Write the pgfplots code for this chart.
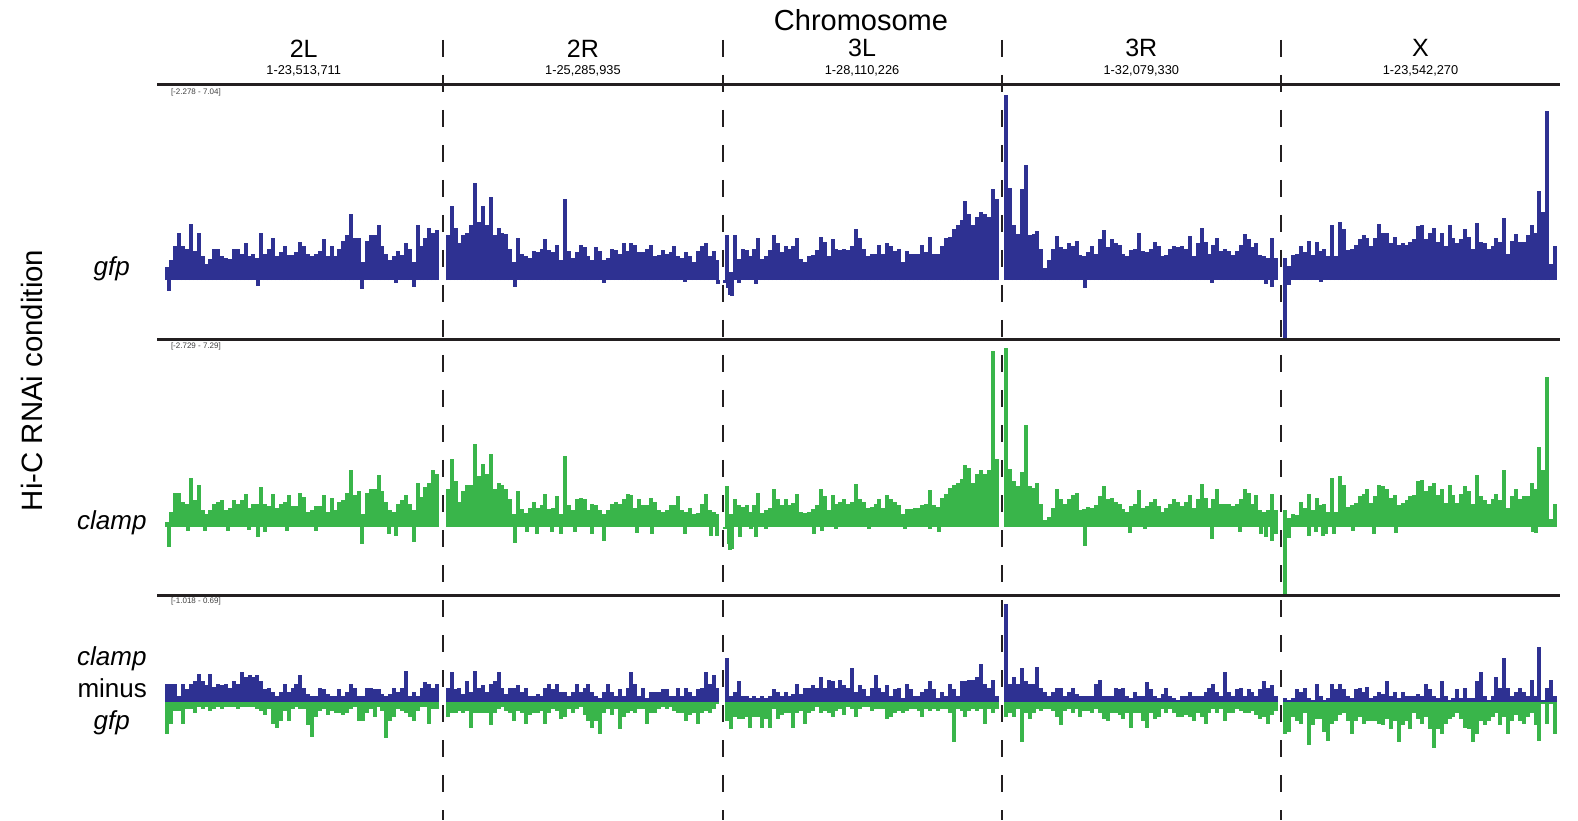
\documentclass[border=0pt]{standalone}
\usepackage{pgfplots}
\pgfplotsset{compat=1.18}
\usepackage{pgfplotstable}
\usepackage{fontspec}
\setmainfont{Liberation Sans}
\definecolor{gfpblue}{HTML}{2E3192}
\definecolor{clampgreen}{HTML}{39B54A}
\definecolor{rulecol}{HTML}{231F20}

% columns: g = gfp, c = clamp, p = clamp minus gfp (positive part), n = (negative part)
\pgfplotstableread{
g c p n
0.5 0.17 0.13 -0.22
0.75 0.58 0.13 -0.15
1.3 1.34 0.13 -0.06
1.8 1.34 0.045 -0.06
1.3 1.0 0.13 -0.15
1.2 0.92 0.09 -0.045
2.15 1.92 0.13 -0.045
1.1 1.08 0.15 -0.075
1.8 1.67 0.2 -0.03
0.9 0.67 0.15 -0.045
0.6 0.5 0.12 -0.03
0.8 0.67 0.2 -0.06
1.2 0.92 0.11 -0.045
1.2 1.0 0.13 -0.03
0.9 1.08 0.12 -0.045
0.85 0.67 0.13 -0.03
0.8 0.75 0.1 -0.03
1.2 1.08 0.15 -0.03
1.2 0.92 0.13 -0.045
1.0 1.08 0.21 -0.03
1.4 1.29 0.18 -0.03
0.9 0.75 0.19 -0.03
1.0 0.92 0.18 -0.03
0.85 0.92 0.19 -0.045
1.8 1.59 0.15 -0.06
1.0 0.92 0.09 -0.09
1.2 0.83 0.1 -0.045
1.6 1.3 0.07 -0.15
0.9 0.75 0.045 -0.18
1.05 0.92 0.07 -0.13
1.3 1.0 0.13 -0.06
0.95 1.25 0.07 -0.13
0.95 0.83 0.1 -0.045
1.05 0.83 0.13 -0.03
1.45 1.34 0.19 -0.045
1.3 1.17 0.1 -0.045
1.0 0.58 0.06 -0.16
0.9 0.67 0.045 -0.24
1.0 0.83 0.045 -0.1
1.1 0.83 0.1 -0.06
1.55 1.25 0.09 -0.045
0.9 0.58 0.06 -0.09
1.3 1.13 0.045 -0.06
0.9 0.67 0.045 -0.075
1.2 1.0 0.09 -0.075
1.5 1.08 0.045 -0.09
1.7 1.34 0.07 -0.075
2.5 2.25 0.13 -0.045
1.6 1.25 0.1 -0.03
1.6 1.42 0.045 -0.13
0.7 0.5 0.045 -0.13
1.5 1.34 0.1 -0.075
1.7 1.5 0.1 -0.045
1.7 1.5 0.09 -0.1
2.1 2.05 0.09 -0.03
1.3 1.42 0.06 -0.06
1.0 1.0 0.045 -0.25
0.75 0.67 0.06 -0.13
0.9 0.58 0.1 -0.1
1.1 0.92 0.07 -0.045
0.95 1.08 0.1 -0.06
1.4 1.25 0.22 -0.075
1.2 0.92 0.045 -0.1
0.7 0.67 0.07 -0.13
2.1 1.75 0.045 -0.06
1.3 1.17 0.1 -0.03
1.6 1.59 0.14 -0.03
2.0 1.75 0.13 -0.15
1.8 2.25 0.1 -0.045
1.9 2.09 0.13 -0.045
}\tIIL

\pgfplotstableread{
g c p n
1.7 1.5 0.1 -0.1
2.8 2.67 0.21 -0.075
2.0 1.8 0.09 -0.075
1.4 1.0 0.1 -0.06
1.7 1.4 0.06 -0.075
1.8 1.67 0.15 -0.06
2.1 1.67 0.07 -0.18
3.7 3.29 0.22 -0.075
2.2 2.0 0.1 -0.075
2.8 2.5 0.12 -0.075
2.1 2.1 0.07 -0.075
3.15 2.89 0.13 -0.16
1.7 1.5 0.15 -0.075
2.0 1.75 0.21 -0.045
1.8 1.67 0.1 -0.03
1.75 1.5 0.06 -0.06
1.2 1.1 0.1 -0.075
0.7 0.5 0.1 -0.13
1.6 1.4 0.12 -0.06
1.0 0.7 0.07 -0.075
0.9 0.55 0.1 -0.15
0.85 0.75 0.045 -0.09
1.1 1.0 0.045 -0.075
1.05 0.75 0.06 -0.075
1.2 0.85 0.045 -0.06
1.55 1.3 0.1 -0.15
1.15 0.7 0.13 -0.075
1.05 0.75 0.09 -0.045
1.35 1.23 0.13 -0.06
0.75 0.5 0.07 -0.12
3.1 2.8 0.07 -0.1
1.1 0.85 0.045 -0.045
0.85 0.67 0.07 -0.075
1.05 1.1 0.13 -0.045
1.35 1.13 0.07 -0.03
1.25 1.1 0.1 -0.09
0.9 0.67 0.13 -0.13
0.75 0.9 0.07 -0.18
1.25 0.85 0.045 -0.13
1.1 0.67 0.03 -0.22
0.75 0.5 0.07 -0.075
0.85 0.67 0.13 -0.045
1.2 0.9 0.07 -0.09
1.15 1.0 0.045 -0.045
1.0 0.9 0.09 -0.19
1.4 1.1 0.045 -0.1
1.1 1.3 0.1 -0.075
1.4 1.25 0.21 -0.06
1.35 0.75 0.13 -0.075
1.05 1.1 0.045 -0.045
1.05 0.85 0.1 -0.045
1.2 0.85 0.03 -0.15
1.35 1.15 0.07 -0.075
0.9 1.0 0.07 -0.075
0.95 0.67 0.07 -0.045
1.15 0.6 0.09 -0.03
1.0 0.67 0.09 -0.045
1.05 0.85 0.045 -0.03
1.3 0.85 0.045 -0.06
0.9 1.22 0.1 -0.075
0.85 0.67 0.045 -0.075
1.05 0.6 0.1 -0.13
0.9 0.75 0.07 -0.09
0.7 0.5 0.045 -0.075
1.1 0.55 0.09 -0.15
1.3 0.9 0.1 -0.075
1.4 1.3 0.21 -0.06
0.9 0.67 0.13 -0.075
1.1 0.6 0.19 -0.045
0.75 0.5 0.1 -0.015
}\tIIR

\pgfplotstableread{
g c p n
1.7 1.6 0.31 -0.13
0.3 0.5 0.045 -0.19
1.7 1.1 0.07 -0.1
0.8 0.85 0.15 -0.12
1.2 0.8 0.045 -0.12
1.15 0.85 0.045 -0.1
0.9 0.6 0.03 -0.18
1.2 0.85 0.045 -0.1
1.6 1.33 0.03 -0.1
0.8 0.55 0.045 -0.18
0.9 0.65 0.03 -0.12
1.15 0.75 0.045 -0.18
1.7 1.5 0.09 -0.045
1.4 1.1 0.075 -0.12
1.05 0.85 0.045 -0.09
1.3 1.1 0.075 -0.075
1.2 0.85 0.045 -0.075
1.3 0.95 0.06 -0.18
1.6 1.3 0.13 -0.075
0.8 0.6 0.06 -0.06
0.7 0.55 0.1 -0.15
0.9 0.6 0.1 -0.075
0.95 0.7 0.12 -0.06
1.15 0.85 0.1 -0.03
1.65 1.5 0.18 -0.075
1.45 1.2 0.1 -0.06
0.9 0.67 0.16 -0.075
1.55 1.25 0.15 -0.1
1.2 0.9 0.1 -0.06
1.15 1.0 0.16 -0.045
1.2 1.1 0.12 -0.09
1.15 0.9 0.1 -0.03
1.3 1.0 0.24 -0.045
1.95 1.7 0.07 -0.1
1.6 1.1 0.12 -0.045
1.2 1.0 0.09 -0.03
0.9 0.75 0.045 -0.03
1.0 0.8 0.1 -0.06
1.0 0.9 0.19 -0.045
1.35 1.1 0.1 -0.045
1.0 0.75 0.07 -0.045
1.4 1.25 0.12 -0.12
1.3 1.1 0.045 -0.1
1.1 1.0 0.09 -0.075
1.2 0.85 0.1 -0.06
0.7 0.5 0.03 -0.075
1.1 0.7 0.13 -0.06
1.0 0.7 0.09 -0.045
1.0 0.75 0.045 -0.045
1.0 0.75 0.045 -0.06
1.35 0.85 0.075 -0.1
1.05 0.9 0.09 -0.045
1.63 1.47 0.15 -0.06
1.0 0.85 0.09 -0.045
1.0 0.8 0.03 -0.06
1.3 1.15 0.075 -0.045
1.6 1.3 0.045 -0.045
1.65 1.54 0.13 -0.075
1.95 1.67 0.09 -0.28
2.1 1.75 0.045 -0.045
2.3 1.9 0.15 -0.06
3.0 2.45 0.15 -0.1
2.5 2.35 0.16 -0.06
2.1 1.75 0.16 -0.045
2.4 2.1 0.18 -0.06
2.6 2.25 0.27 -0.045
2.5 2.1 0.13 -0.15
2.4 2.25 0.1 -0.045
3.46 6.98 0.16 -0.075
3.1 2.67 0.045 -0.045
}\tIIIL

\pgfplotstableread{
g c p n
7.04 7.1 0.69 -0.1
3.5 2.3 0.13 -0.075
2.1 1.8 0.18 -0.1
1.75 1.6 0.13 -0.045
3.47 2.17 0.24 -0.28
4.38 4.04 0.15 -0.075
1.7 1.6 0.13 -0.12
1.75 1.55 0.13 -0.075
1.85 1.75 0.25 -0.045
1.2 0.9 0.1 -0.06
0.45 0.25 0.075 -0.045
0.75 0.4 0.045 -0.045
1.2 0.75 0.075 -0.06
1.66 1.5 0.1 -0.1
1.25 1.1 0.1 -0.16
1.2 0.9 0.045 -0.06
1.4 1.1 0.075 -0.045
1.3 1.25 0.1 -0.075
1.5 1.35 0.06 -0.045
0.95 0.67 0.045 -0.1
0.9 0.7 0.045 -0.06
1.05 0.8 0.045 -0.06
1.3 0.75 0.045 -0.075
1.0 0.85 0.13 -0.045
1.55 1.2 0.16 -0.075
1.9 1.62 0.045 -0.12
1.25 1.1 0.045 -0.13
1.55 1.15 0.045 -0.075
1.4 1.0 0.1 -0.075
1.35 0.9 0.09 -0.09
1.0 0.7 0.1 -0.12
0.9 0.6 0.045 -0.075
1.15 0.83 0.03 -0.18
1.2 0.92 0.075 -0.075
1.79 1.47 0.045 -0.075
1.1 0.75 0.045 -0.13
1.05 0.83 0.14 -0.18
1.2 1.0 0.09 -0.075
1.45 1.1 0.045 -0.12
1.3 0.83 0.03 -0.1
0.9 0.6 0.06 -0.045
0.95 0.75 0.1 -0.075
1.2 0.9 0.045 -0.045
1.3 1.1 0.03 -0.075
1.25 1.0 0.015 -0.1
1.3 0.83 0.045 -0.1
1.2 1.0 0.045 -0.09
1.66 1.25 0.075 -0.1
0.9 0.75 0.045 -0.13
1.4 1.1 0.045 -0.075
1.98 1.7 0.045 -0.1
1.45 1.15 0.075 -0.15
1.0 0.75 0.1 -0.075
1.35 1.1 0.13 -0.045
1.6 1.5 0.075 -0.075
1.1 0.9 0.045 -0.045
1.2 0.9 0.21 -0.13
1.1 0.9 0.075 -0.075
0.95 0.83 0.045 -0.075
1.1 0.92 0.09 -0.045
1.35 1.1 0.1 -0.06
1.76 1.5 0.045 -0.075
1.55 1.35 0.09 -0.075
1.25 0.92 0.075 -0.06
1.4 1.25 0.045 -0.09
0.95 0.67 0.09 -0.12
0.9 0.6 0.15 -0.1
0.85 0.67 0.1 -0.15
1.6 1.3 0.12 -0.09
0.85 0.67 0.045 -0.06
}\tIIIR

\pgfplotstableread{
g c p n
0.85 0.67 0.03 -0.22
0.55 0.35 0.015 -0.21
0.95 0.5 0.03 -0.1
0.98 0.45 0.09 -0.13
1.28 1.0 0.075 -0.15
1.05 0.75 0.1 -0.075
1.5 1.28 0.03 -0.3
0.95 0.67 0.015 -0.16
1.45 1.15 0.13 -0.12
1.1 0.85 0.045 -0.12
1.2 0.9 0.015 -0.21
0.9 0.6 0.03 -0.27
2.08 1.92 0.13 -0.15
0.9 0.6 0.09 -0.13
2.2 2.0 0.13 -0.09
1.95 1.67 0.09 -0.075
1.15 0.8 0.045 -0.13
1.2 0.85 0.03 -0.22
1.35 0.95 0.09 -0.13
1.55 1.2 0.1 -0.1
1.71 1.3 0.075 -0.15
1.6 1.5 0.11 -0.13
1.3 0.95 0.03 -0.13
1.6 1.2 0.045 -0.13
2.14 1.67 0.075 -0.15
1.8 1.6 0.06 -0.16
1.8 1.5 0.15 -0.12
1.4 1.15 0.045 -0.19
1.65 1.25 0.075 -0.13
1.35 0.85 0.03 -0.28
1.4 0.95 0.075 -0.16
1.35 1.05 0.045 -0.13
1.45 1.2 0.045 -0.19
1.55 1.25 0.045 -0.075
2.05 1.8 0.06 -0.12
2.1 1.85 0.045 -0.15
1.55 1.4 0.13 -0.1
1.8 1.6 0.09 -0.19
2.0 1.75 0.045 -0.32
1.45 1.25 0.03 -0.19
1.8 1.5 0.15 -0.22
1.3 0.95 0.045 -0.15
2.08 1.67 0.015 -0.12
1.6 1.25 0.03 -0.1
1.4 0.95 0.09 -0.075
1.55 1.3 0.03 -0.12
1.95 1.6 0.1 -0.18
1.65 1.4 0.03 -0.19
1.2 0.92 0.03 -0.28
2.19 2.04 0.15 -0.22
1.45 1.2 0.21 -0.13
1.4 1.05 0.045 -0.16
1.2 0.92 0.015 -0.13
1.3 1.1 0.045 -0.1
1.6 1.3 0.18 -0.075
1.45 1.05 0.1 -0.16
2.35 2.25 0.31 -0.1
1.0 0.75 0.1 -0.22
1.5 1.2 0.045 -0.13
1.75 1.5 0.075 -0.09
1.45 1.1 0.1 -0.13
1.45 1.2 0.075 -0.15
1.71 1.2 0.045 -0.1
2.08 1.75 0.16 -0.075
1.8 1.5 0.045 -0.16
3.39 3.17 0.39 -0.27
2.6 2.25 0.015 -0.015
6.43 5.93 0.1 -0.15
0.6 0.3 0.16 -0.015
1.28 0.92 0.045 -0.22
}\tX

\pgfplotsset{
  track/.style={scale only axis, width=698pt, hide axis, xmin=0, xmax=500, anchor=south west},
  bars/.style={ycomb, mark=none, line width=2pt},
}
\newcommand\allchrom[2]{%
  \addplot[bars,#2] table[x expr=\coordindex*1.4+1.2, y=#1]{\tIIL};
  \addplot[bars,#2] table[x expr=\coordindex*1.4+101.6, y=#1]{\tIIR};
  \addplot[bars,#2] table[x expr=\coordindex*1.4+201.6, y=#1]{\tIIIL};
  \addplot[bars,#2] table[x expr=\coordindex*1.4+301.6, y=#1]{\tIIIR};
  \addplot[bars,#2] table[x expr=\coordindex*1.4+401.6, y=#1]{\tX};
}

\begin{document}
\begin{tikzpicture}
\path (0pt,0pt) rectangle (789pt,410pt);

% gfp track
\begin{axis}[track, at={(82.05pt,240pt)}, height=122.5pt, ymin=-2.278, ymax=7.04]
\allchrom{g}{gfpblue}
\addplot[bars,gfpblue] coordinates {(1.6,-0.42) (33.5,-0.22) (71,-0.35) (83,-0.12) (89.5,-0.28)
 (125.5,-0.25) (157.4,-0.1) (186.7,-0.08) (198.5,-0.15)
 (200.8,-0.1) (202,-0.3) (202.8,-0.55) (203.4,-0.6) (206,-0.1) (212,-0.15)
 (329.9,-0.3) (375.4,-0.12) (394.5,-0.15) (396.9,-0.25)
 (401.4,-2.278) (402.8,-0.2) (414.5,-0.08)};
\end{axis}

% clamp track
\begin{axis}[track, at={(82.05pt,112.25pt)}, height=126.25pt, ymin=-2.729, ymax=7.29]
\allchrom{c}{clampgreen}
\addplot[bars,clampgreen] coordinates {(1.9,-0.8) (8.7,-0.15) (14.7,-0.15) (23,-0.15) (30.3,-0.12) (33.6,-0.4) (36.2,-0.2) (44,-0.15) (54.5,-0.15) (70.9,-0.7) (80.5,-0.3) (82.9,-0.35) (89.5,-0.6)
 (125.5,-0.63) (129.9,-0.2) (133.5,-0.3) (138.9,-0.2) (142.1,-0.3) (147.2,-0.2) (153.2,-0.3) (157.4,-0.55) (169.4,-0.25) (174.8,-0.3) (186.7,-0.3) (195.7,-0.35) (198.1,-0.35)
 (200.8,-0.1) (202.2,-0.7) (202.8,-0.92) (203.5,-0.9) (206.3,-0.4) (210.2,-0.1) (212,-0.4) (215.6,-0.1) (232.9,-0.3) (235.5,-0.15) (240.7,-0.1) (252.6,-0.1) (265.2,-0.1) (274.2,-0.1) (277.5,-0.2)
 (329.9,-0.75) (346.1,-0.25) (351.4,-0.1) (375.4,-0.5) (385.5,-0.2) (392.7,-0.3) (394.5,-0.4) (396.9,-0.55) (398.4,-0.3)
 (401.4,-2.729) (402.8,-0.45) (409.9,-0.35) (412.6,-0.2) (415,-0.35) (416.1,-0.3) (419.1,-0.3) (425.7,-0.15) (433.5,-0.3) (441.3,-0.25) (490.3,-0.2) (491.5,-0.25)};
\end{axis}

% clamp minus gfp track
\begin{axis}[track, at={(82.05pt,0pt)}, height=108pt, ymin=-0.826, ymax=0.69]
\allchrom{p}{gfpblue}
\allchrom{n}{clampgreen}
\end{axis}

% separators
\foreach \yy in {367.5,240,112.25}
  \draw[rulecol, line width=1.5pt] (78.5pt,\yy pt) -- (780pt,\yy pt);
\foreach \xx in {221.65,361.25,500.85,640.45}
  \draw[rulecol, line width=1pt, dash pattern=on 8.3pt off 9.2pt] (\xx pt,390pt) -- (\xx pt,0pt);

% header
\node[font=\fontsize{14.5}{16}\selectfont, inner sep=0pt] at (430.5pt,399.7pt) {Chromosome};
\foreach \xx/\nm/\rng in {151.85/2L/{1-23,513,711}, 291.45/2R/{1-25,285,935}, 431.05/3L/{1-28,110,226}, 570.65/3R/{1-32,079,330}, 710.25/X/{1-23,542,270}}{
  \node[font=\fontsize{12.5}{14}\selectfont, inner sep=0pt] at (\xx pt,385.8pt) {\nm};
  \node[font=\fontsize{6.4}{7}\selectfont, inner sep=0pt, anchor=base] at (\xx pt,372.8pt) {\rng};
}

% range labels
\node[font=\fontsize{4}{4.5}\selectfont, text=black!75, anchor=west, inner sep=0pt] at (85.3pt,364pt) {[-2.278 - 7.04]};
\node[font=\fontsize{4}{4.5}\selectfont, text=black!75, anchor=west, inner sep=0pt] at (85.3pt,236.6pt) {[-2.729 - 7.29]};
\node[font=\fontsize{4}{4.5}\selectfont, text=black!75, anchor=west, inner sep=0pt] at (85.3pt,109.1pt) {[-1.018 - 0.69]};

% row labels
\node[font=\fontsize{13}{15}\selectfont\itshape, inner sep=0pt] at (55.9pt,275.6pt) {gfp};
\node[font=\fontsize{13}{15}\selectfont\itshape, inner sep=0pt] at (55.9pt,148.8pt) {clamp};
\node[font=\fontsize{13}{15}\selectfont\itshape, inner sep=0pt] at (55.9pt,80.4pt) {clamp};
\node[font=\fontsize{13}{15}\selectfont, inner sep=0pt] at (56.1pt,65.8pt) {minus};
\node[font=\fontsize{13}{15}\selectfont\itshape, inner sep=0pt] at (55.9pt,48.7pt) {gfp};
\node[font=\fontsize{14.7}{16}\selectfont, inner sep=0pt, rotate=90] at (16.1pt,219.8pt) {Hi-C RNAi condition};

\pgfresetboundingbox
\useasboundingbox (0pt,0pt) rectangle (789pt,410pt);
\end{tikzpicture}
\end{document}
